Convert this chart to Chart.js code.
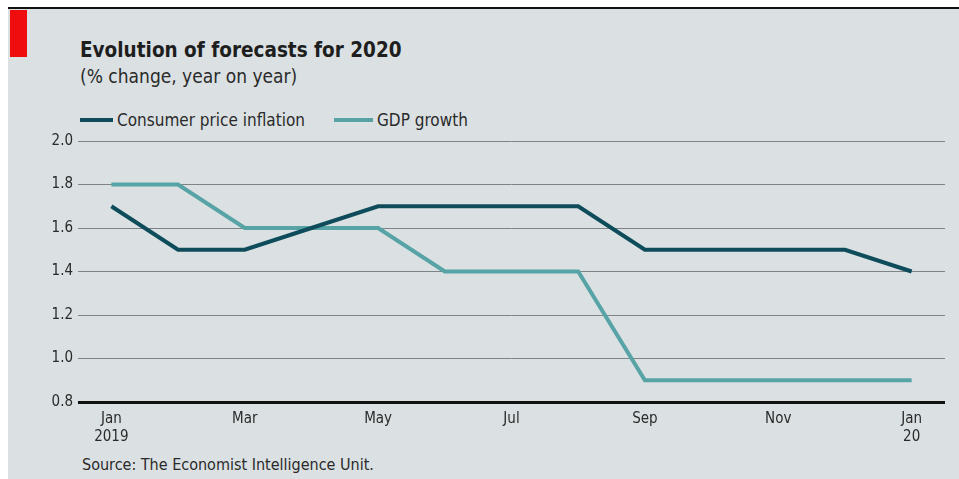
<!DOCTYPE html>
<html>
<head>
<meta charset="utf-8">
<script src="https://cdn.jsdelivr.net/npm/chart.js@4.4.1/dist/chart.umd.min.js"></script>
<style>
  html, body { margin: 0; padding: 0; background: #ffffff; }
  #wrap { position: relative; width: 959px; height: 479px; overflow: hidden; background: #ffffff; font-family: "DejaVu Sans Condensed", "Liberation Sans Narrow", sans-serif; }
  #panel { position: absolute; left: 8px; top: 7px; right: 0; bottom: 0; background: #dbe1e3; border-top: 2px solid #111; }
  #redbar { position: absolute; left: 10px; top: 10px; width: 17px; height: 47px; background: #f00d0d; }
  #title { position: absolute; left: 80px; top: 38px; font-size: 20.5px; font-weight: bold; color: #1e1e1e; white-space: nowrap; }
  #subtitle { position: absolute; left: 80px; top: 65px; font-size: 19px; color: #2a2a2a; white-space: nowrap; }
  .leg { position: absolute; top: 109px; font-size: 17px; color: #2a2a2a; white-space: nowrap; line-height: 22px; }
  .leg i { display: inline-block; height: 4px; vertical-align: middle; margin-right: 4px; position: relative; top: -1px; }
  #source { position: absolute; left: 82px; top: 455px; font-size: 16px; color: #2a2a2a; white-space: nowrap; }
  #cv { position: absolute; left: 0; top: 0; }
</style>
</head>
<body>
<div id="wrap">
  <div id="panel"></div>
  <div id="redbar"></div>
  <div id="title">Evolution of forecasts for 2020</div>
  <div id="subtitle">(% change, year on year)</div>
  <div class="leg" id="leg1" style="left:80px"><i style="background:#0e4c5c;width:33px"></i>Consumer price inflation</div>
  <div class="leg" id="leg2" style="left:334px"><i style="background:#58a3a6;width:39px"></i>GDP growth</div>
  <div id="source">Source: The Economist Intelligence Unit.</div>
  <canvas id="cv" width="959" height="479"></canvas>
</div>
<script>
// Months from Jan 2019 to Jan 2020
const months = ["Jan 2019","Feb","Mar","Apr","May","Jun","Jul","Aug","Sep","Oct","Nov","Dec","Jan 20"];
const tickLabels = [["Jan","2019"], "", "Mar", "", "May", "", "Jul", "", "Sep", "", "Nov", "", ["Jan","20"]];
const cpiValues = [1.7, 1.5, 1.5, 1.6, 1.7, 1.7, 1.7, 1.7, 1.5, 1.5, 1.5, 1.5, 1.4];
const gdpValues = [1.8, 1.8, 1.6, 1.6, 1.6, 1.4, 1.4, 1.4, 0.9, 0.9, 0.9, 0.9, 0.9];
const yTicks = [0.8, 1.0, 1.2, 1.4, 1.6, 1.8, 2.0];
const seriesNames = ["Consumer price inflation", "GDP growth"];

const FONT = '"DejaVu Sans Condensed", "Liberation Sans Narrow", sans-serif';

new Chart(document.getElementById('cv'), {
  type: 'line',
  data: {
    labels: months,
    datasets: [
      { label: seriesNames[0], data: cpiValues, borderColor: '#0e4c5c', backgroundColor: '#0e4c5c', borderWidth: 4, pointRadius: 0, tension: 0, borderJoinStyle: 'miter', borderCapStyle: 'butt' },
      { label: seriesNames[1], data: gdpValues, borderColor: '#58a3a6', backgroundColor: '#58a3a6', borderWidth: 4, pointRadius: 0, tension: 0, borderJoinStyle: 'miter', borderCapStyle: 'butt' }
    ]
  },
  options: {
    responsive: false,
    animation: false,
    layout: { padding: { left: 8, right: 14, top: 141, bottom: 37 } },
    plugins: { legend: { display: false }, tooltip: { enabled: false }, title: { display: false } },
    scales: {
      x: {
        type: 'category',
        offset: true,
        grid: { display: false, drawTicks: false },
        border: { display: false },
        afterFit: (s) => { s.height = 40; },
        ticks: {
          autoSkip: false, maxRotation: 0, padding: 8,
          color: '#2a2a2a', font: { family: FONT, size: 15 },
          callback: (v, i) => tickLabels[i]
        }
      },
      y: {
        min: 0.8, max: 2.0,
        afterFit: (s) => { s.width = 70; },
        afterBuildTicks: (s) => { s.ticks = yTicks.map(v => ({ value: v })); },
        grid: {
          drawTicks: false,
          color: (c) => (c.tick && Math.abs(c.tick.value - 0.8) < 1e-6) ? '#111111' : '#7d8386',
          lineWidth: (c) => (c.tick && Math.abs(c.tick.value - 0.8) < 1e-6) ? 3 : 1
        },
        border: { display: false },
        ticks: {
          padding: 5, color: '#2a2a2a', font: { family: FONT, size: 15 },
          callback: (v) => Number(v).toFixed(1)
        }
      }
    }
  }
});
</script>
</body>
</html>
